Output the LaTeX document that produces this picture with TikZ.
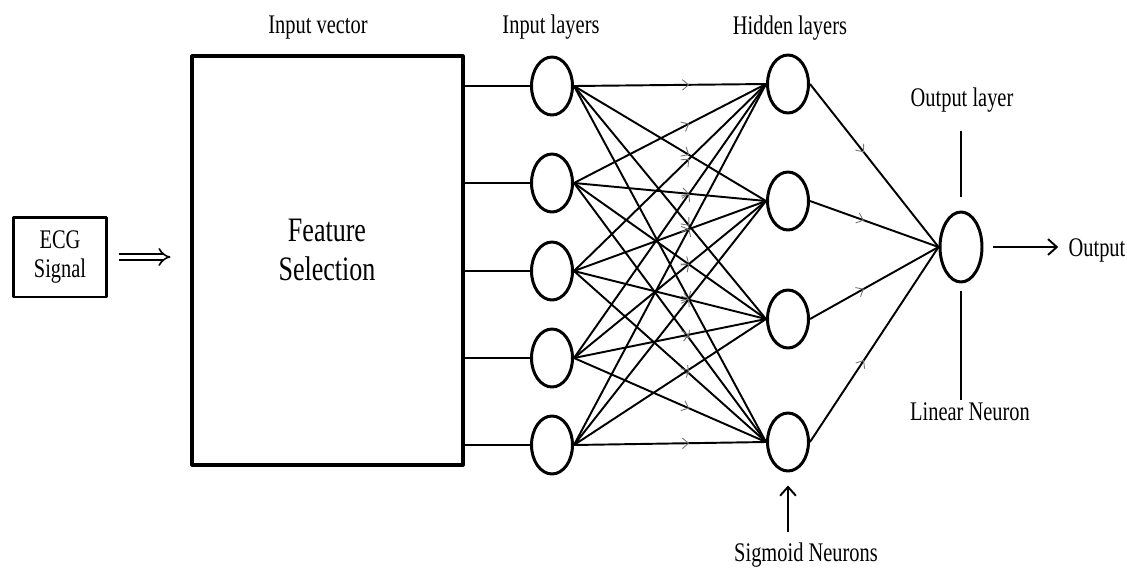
\documentclass[tikz,border=0pt]{standalone}
\usepackage{fontspec}
\setmainfont[FakeStretch=0.76]{Liberation Serif}
\usetikzlibrary{shapes.geometric,arrows.meta,decorations.markings}
\tikzset{
  neuron/.style={draw,ellipse,line width=1.7pt,minimum width=.82cm,minimum height=1.16cm,inner sep=0pt},
  lbl/.style={font=\fontsize{15.3}{17}\selectfont,inner sep=0pt},
  conn/.style={line width=1.1pt,postaction={decorate},
    decoration={markings,mark=at position #1 with {\arrow[black!55,line width=.5pt]{Straight Barb[length=3.5pt,width=6pt]}}}},
  conn/.default=.6,
  barb/.style={line width=1.1pt,-{Straight Barb[length=5pt,width=9pt]}}
}
\begin{document}
\begin{tikzpicture}[x=.02cm,y=-.02cm,line join=round]
  \useasboundingbox (0,0) rectangle (1127,572);
  % boxes
  \node (ecg) [draw,lbl,line width=1.7pt,minimum width=1.88cm,minimum height=1.6cm,align=center] at (60,257) {ECG\\Signal};
  \node (fs) [draw,line width=1.8pt,minimum width=5.42cm,minimum height=8.18cm] at (327.5,260.5) {};
  \node (fstxt) [font=\fontsize{19.5}{22}\selectfont,align=center,inner sep=0pt] at (327,250) {Feature\\Selection};
  % neurons
  \node (in1) [neuron] at (552,86) {};
  \node (in2) [neuron] at (552,183) {};
  \node (in3) [neuron] at (552,271) {};
  \node (in4) [neuron] at (552,358) {};
  \node (in5) [neuron] at (552,445) {};
  \node (hid1) [neuron] at (788,84) {};
  \node (hid2) [neuron] at (788,201) {};
  \node (hid3) [neuron] at (788,319) {};
  \node (hid4) [neuron] at (788,442) {};
  \node (out) [neuron,minimum width=.84cm,minimum height=1.4cm] at (961,247) {};
  % labels
  \node (iv) [lbl] at (318,28) {Input vector};
  \node (il) [lbl] at (551,27) {Input layers};
  \node (hl) [lbl] at (790,28) {Hidden layers};
  \node (ol) [lbl] at (962,100) {Output layer};
  \node (ln) [lbl] at (970,412) {Linear Neuron};
  \node (sig) [lbl] at (806,555) {Sigmoid Neurons};
  \node (outtxt) [lbl] at (1097,250) {Output};
  % connectors
  \draw[double,double distance=2.6pt,line width=.9pt,-{Implies},shorten <=.22cm,shorten >=.4cm] (ecg.east) -- (fs.west |- ecg.east);
  \foreach \i in {1,...,5}
    \draw[line width=1.5pt] (fs.east |- in\i) -- (in\i);
  \foreach \i in {1,...,5}
    \foreach \j in {1,...,4}
      \draw[conn] (in\i.east) -- (hid\j.west);
  \foreach \j in {1,...,4}
    \draw[conn=.42] (hid\j.east) -- (out.west);
  \draw[barb,shorten <=.2cm,shorten >=.2cm] (out.east) -- (out.east -| outtxt.west);
  \draw[line width=1.1pt,shorten <=.36cm,shorten >=.28cm] (out.north |- ol.south) -- (out.north);
  \draw[line width=1.1pt,shorten <=.16cm,shorten >=.06cm] (out.south) -- (out.south |- ln.north);
  \draw[barb,shorten <=.2cm,shorten >=.26cm] (hid4.south |- sig.north) -- (hid4.south);
\end{tikzpicture}
\end{document}
